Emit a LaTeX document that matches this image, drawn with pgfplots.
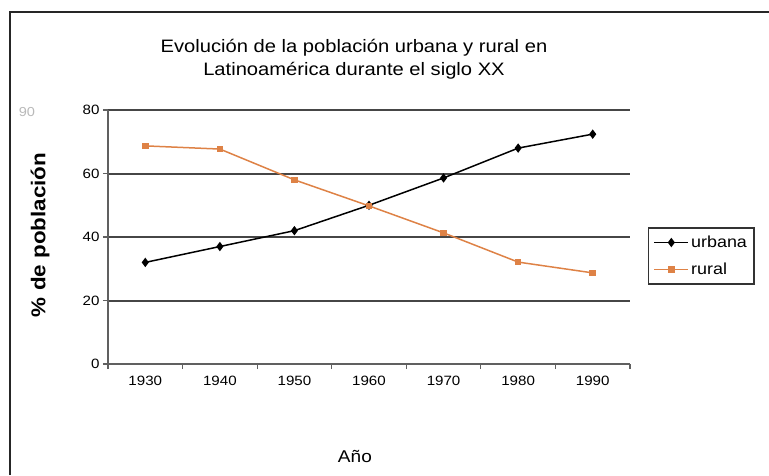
\documentclass[border=0pt]{standalone}
\usepackage{pgfplots}
\pgfplotsset{compat=1.18}
\usepackage{fontspec}
\setmainfont[FakeStretch=1.12]{Liberation Sans}
\definecolor{rural}{RGB}{222,130,70}
\definecolor{gridc}{RGB}{70,70,70}
\begin{document}
\begin{tikzpicture}[x=1pt,y=1pt]
\useasboundingbox (0pt,0pt) rectangle (769pt,475pt);
\draw[line width=2.5pt, black!85] (10pt,0pt) -- (10pt,463pt) -- (769pt,463pt);
\node[font=\fontsize{18}{23}\selectfont, align=center] at (354pt,416pt) {Evolución de la población urbana y rural en\\Latinoamérica durante el siglo XX};
\node[gray!55, font=\fontsize{13}{15}\selectfont] at (27pt,363pt) {90};
\begin{axis}[
  at={(108pt,111pt)}, anchor=south west,
  scale only axis, width=522pt, height=254pt,
  xmin=-0.5, xmax=6.5, ymin=0, ymax=80,
  axis x line*=bottom, axis y line*=left,
  axis line style={gray!75!black, line width=1.8pt},
  ymajorgrids, grid style={gridc, line width=2pt},
  xtick={0,...,6},
  xticklabels={1930,1940,1950,1960,1970,1980,1990},
  minor xtick={-0.5,0.5,...,6.5},
  xtick style={draw=none},
  minor x tick style={draw=gray!75!black, line width=1.2pt},
  ytick={0,20,40,60,80},
  y tick style={draw=gray!75!black, line width=1.2pt},
  tick align=outside, major tick length=5pt, minor tick length=5pt,
  tick label style={font=\fontsize{13.5}{15}\selectfont},
  x tick label style={yshift=-4pt},
  /pgf/number format/assume math mode=true,
  ylabel={\textbf{\% de población}},
  xlabel={Año},
  every axis y label/.style={at={(rel axis cs:-0.130,0.508)}, rotate=90, anchor=center, font=\fontsize{20}{24}\selectfont},
  every axis x label/.style={at={(rel axis cs:0.473,-0.366)}, anchor=center, font=\fontsize{17}{20}\selectfont},
  legend style={at={(rel axis cs:1.034,0.425)}, anchor=west, draw=black!80, line width=1.5pt, font=\fontsize{16}{19}\selectfont, row sep=10pt, inner xsep=5pt, inner ysep=6pt},
  legend image code/.code={\draw[mark repeat=2,mark phase=2] plot coordinates {(0cm,0cm) (0.6cm,0cm) (1.2cm,0cm)};},
  legend cell align=left,
  clip=false,
]
\addplot[black, line width=1.5pt, mark=diamond*, mark size=3.5pt] coordinates {
(0,32) (1,37) (2,42) (3,50) (4,58.6) (5,68) (6,72.4)};
\addlegendentry{urbana}
\addplot[rural, line width=1.5pt, mark=square*, mark size=2.5pt] coordinates {
(0,68.7) (1,67.7) (2,58) (3,49.8) (4,41.3) (5,32.1) (6,28.7)};
\addlegendentry{rural}
\end{axis}
\end{tikzpicture}
\end{document}
